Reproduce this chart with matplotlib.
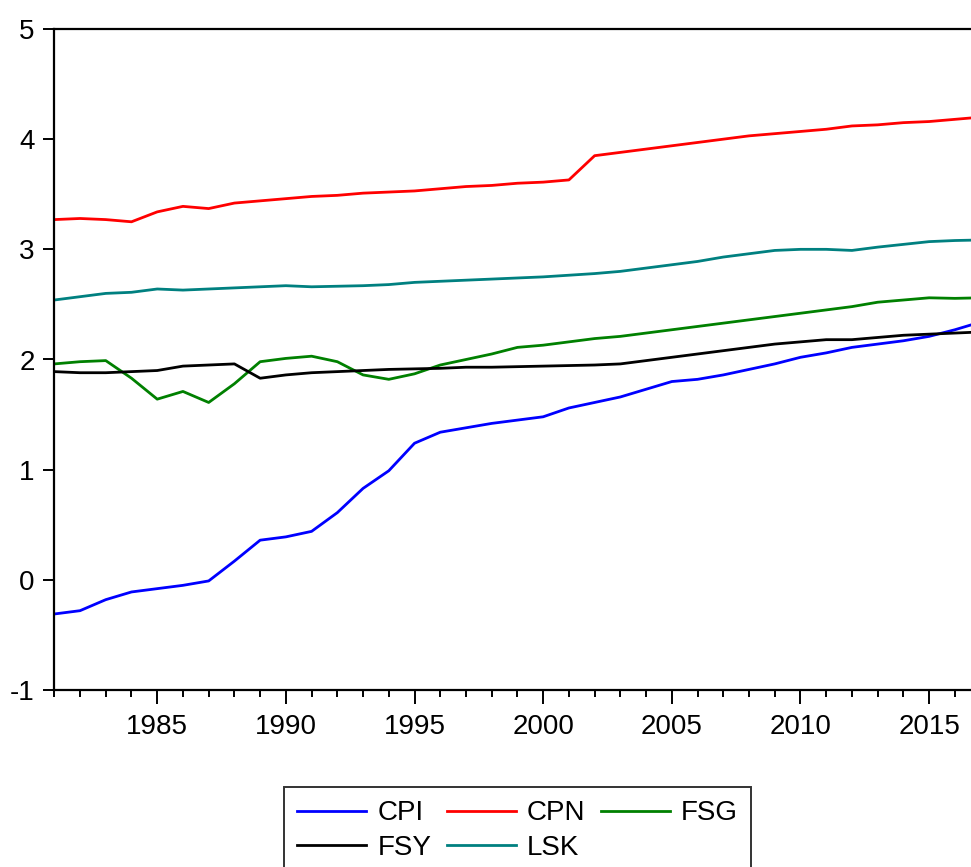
import matplotlib
matplotlib.use("Agg")
import matplotlib.pyplot as plt
from matplotlib.ticker import MultipleLocator, FixedLocator

plt.rcParams['font.family'] = ['Liberation Sans', 'DejaVu Sans']
plt.rcParams['axes.unicode_minus'] = False

years = list(range(1981, 2018))

CPI = [-0.31, -0.28, -0.18, -0.11, -0.08, -0.05, -0.01, 0.17, 0.36, 0.39,
       0.44, 0.61, 0.83, 0.99, 1.24, 1.34, 1.38, 1.42, 1.45, 1.48,
       1.56, 1.61, 1.66, 1.73, 1.80, 1.82, 1.86, 1.91, 1.96, 2.02,
       2.06, 2.11, 2.14, 2.17, 2.21, 2.27, 2.34]
CPN = [3.27, 3.28, 3.27, 3.25, 3.34, 3.39, 3.37, 3.42, 3.44, 3.46,
       3.48, 3.49, 3.51, 3.52, 3.53, 3.55, 3.57, 3.58, 3.60, 3.61,
       3.63, 3.85, 3.88, 3.91, 3.94, 3.97, 4.00, 4.03, 4.05, 4.07,
       4.09, 4.12, 4.13, 4.15, 4.16, 4.18, 4.20]
FSG = [1.96, 1.98, 1.99, 1.83, 1.64, 1.71, 1.61, 1.78, 1.98, 2.01,
       2.03, 1.98, 1.86, 1.82, 1.87, 1.95, 2.00, 2.05, 2.11, 2.13,
       2.16, 2.19, 2.21, 2.24, 2.27, 2.30, 2.33, 2.36, 2.39, 2.42,
       2.45, 2.48, 2.52, 2.54, 2.56, 2.555, 2.56]
FSY = [1.89, 1.88, 1.88, 1.89, 1.90, 1.94, 1.95, 1.96, 1.83, 1.86,
       1.88, 1.89, 1.90, 1.91, 1.915, 1.92, 1.93, 1.93, 1.935, 1.94,
       1.945, 1.95, 1.96, 1.99, 2.02, 2.05, 2.08, 2.11, 2.14, 2.16,
       2.18, 2.18, 2.20, 2.22, 2.23, 2.24, 2.25]
LSK = [2.54, 2.57, 2.60, 2.61, 2.64, 2.63, 2.64, 2.65, 2.66, 2.67,
       2.66, 2.665, 2.67, 2.68, 2.70, 2.71, 2.72, 2.73, 2.74, 2.75,
       2.765, 2.78, 2.80, 2.83, 2.86, 2.89, 2.93, 2.96, 2.99, 3.00,
       3.00, 2.99, 3.02, 3.045, 3.07, 3.08, 3.085]

names = ["CPI", "CPN", "FSG", "FSY", "LSK"]
data = [CPI, CPN, FSG, FSY, LSK]
colors = ["#0000ff", "#ff0000", "#008000", "#000000", "#008080"]

W, H = 971, 867
fig = plt.figure(figsize=(W / 100, H / 100), dpi=100)
left = 54.3 / W
right = 980.6 / W
top = 1 - 29 / H
bottom = 1 - 690 / H
ax = fig.add_axes([left, bottom, right - left, top - bottom])

handles = {}
for name, vals, col in zip(names, data, colors):
    h, = ax.plot(years, vals, color=col, lw=2.0, label=name)
    handles[name] = h

ax.set_xlim(1981, 2017)
ax.set_ylim(-1, 5)
ax.xaxis.set_major_locator(FixedLocator([1985, 1990, 1995, 2000, 2005, 2010, 2015]))
ax.xaxis.set_minor_locator(MultipleLocator(1))
ax.yaxis.set_major_locator(MultipleLocator(1))
ax.tick_params(axis='x', which='major', length=10, width=1.4, direction='out',
               labelsize=20, pad=7)
ax.tick_params(axis='x', which='minor', length=5, width=1.4, direction='out')
ax.tick_params(axis='y', which='major', length=8, width=1.4, direction='out',
               labelsize=20, pad=6)
for s in ax.spines.values():
    s.set_linewidth(1.6)

# row-wise legend order: CPI CPN FSG / FSY LSK
order = ["CPI", "FSY", "CPN", "LSK", "FSG"]
leg = fig.legend([handles[n] for n in order], order,
                 loc='upper left', bbox_to_anchor=(284 / W, 1 - 787 / H),
                 ncol=3, fontsize=20, frameon=True, fancybox=False,
                 edgecolor='black', borderaxespad=0, handlelength=2.48,
                 handletextpad=0.4, columnspacing=0.56, labelspacing=0.3,
                 borderpad=0.48)
leg.get_frame().set_linewidth(1.4)

fig.savefig("out.png", dpi=100)
